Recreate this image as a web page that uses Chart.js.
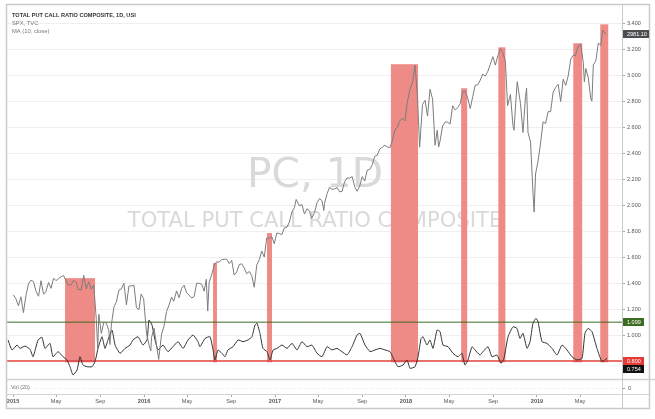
<!DOCTYPE html>
<html>
<head>
<meta charset="utf-8">
<script src="https://cdn.jsdelivr.net/npm/chart.js@4.4.1/dist/chart.umd.min.js"></script>
<style>
  html, body { margin: 0; padding: 0; background: #fff; }
  canvas { display: block; }
</style>
</head>
<body>
<canvas id="c" width="655" height="419"></canvas>
<script>
/* Total put/call ratio (MA 10) vs SPX.
   x axis runs in decimal years. */

// ---------- SPX (TVC), weekly-ish closes ----------
const spxDates = [
  "2015-01-02","2015-01-09","2015-01-16","2015-01-23","2015-01-30","2015-02-06","2015-02-13","2015-02-20","2015-02-27","2015-03-06",
  "2015-03-13","2015-03-20","2015-03-27","2015-04-02","2015-04-10","2015-04-17","2015-04-24","2015-05-01","2015-05-08","2015-05-15",
  "2015-05-22","2015-05-29","2015-06-05","2015-06-12","2015-06-19","2015-06-26","2015-07-02","2015-07-10","2015-07-17","2015-07-24",
  "2015-07-31","2015-08-07","2015-08-14","2015-08-21","2015-08-25","2015-08-28","2015-09-04","2015-09-11","2015-09-18","2015-09-25",
  "2015-09-28","2015-10-02","2015-10-09","2015-10-16","2015-10-23","2015-10-30","2015-11-06","2015-11-13","2015-11-20","2015-11-27",
  "2015-12-04","2015-12-11","2015-12-18","2015-12-24","2015-12-31",
  "2016-01-08","2016-01-15","2016-01-20","2016-01-22","2016-01-29","2016-02-05","2016-02-11","2016-02-19","2016-02-26","2016-03-04",
  "2016-03-11","2016-03-18","2016-03-24","2016-04-01","2016-04-08","2016-04-15","2016-04-22","2016-04-29","2016-05-06","2016-05-13",
  "2016-05-20","2016-05-27","2016-06-03","2016-06-10","2016-06-17","2016-06-23","2016-06-27","2016-07-01","2016-07-08","2016-07-15",
  "2016-07-22","2016-07-29","2016-08-05","2016-08-12","2016-08-19","2016-08-26","2016-09-02","2016-09-09","2016-09-16","2016-09-23",
  "2016-09-30","2016-10-07","2016-10-14","2016-10-21","2016-10-28","2016-11-04","2016-11-11","2016-11-18","2016-11-25","2016-12-02",
  "2016-12-09","2016-12-16","2016-12-23","2016-12-30",
  "2017-01-06","2017-01-13","2017-01-20","2017-01-27","2017-02-03","2017-02-10","2017-02-17","2017-02-24","2017-03-01","2017-03-10",
  "2017-03-17","2017-03-24","2017-03-31","2017-04-07","2017-04-13","2017-04-21","2017-04-28","2017-05-05","2017-05-12","2017-05-17",
  "2017-05-19","2017-05-26","2017-06-02","2017-06-09","2017-06-16","2017-06-23","2017-06-30","2017-07-07","2017-07-14","2017-07-21",
  "2017-07-28","2017-08-04","2017-08-11","2017-08-18","2017-08-25","2017-09-01","2017-09-08","2017-09-15","2017-09-22","2017-09-29",
  "2017-10-06","2017-10-13","2017-10-20","2017-10-27","2017-11-03","2017-11-10","2017-11-17","2017-11-24","2017-12-01","2017-12-08",
  "2017-12-15","2017-12-22","2017-12-29",
  "2018-01-05","2018-01-12","2018-01-19","2018-01-26","2018-02-02","2018-02-08","2018-02-16","2018-02-23","2018-03-02","2018-03-09",
  "2018-03-16","2018-03-23","2018-03-29","2018-04-02","2018-04-06","2018-04-13","2018-04-20","2018-04-27","2018-05-04","2018-05-11",
  "2018-05-18","2018-05-25","2018-06-01","2018-06-08","2018-06-15","2018-06-22","2018-06-29","2018-07-06","2018-07-13","2018-07-20",
  "2018-07-27","2018-08-03","2018-08-10","2018-08-17","2018-08-24","2018-08-31","2018-09-07","2018-09-14","2018-09-21","2018-09-28",
  "2018-10-05","2018-10-11","2018-10-19","2018-10-26","2018-10-29","2018-11-02","2018-11-07","2018-11-16","2018-11-23","2018-11-30",
  "2018-12-03","2018-12-07","2018-12-14","2018-12-21","2018-12-24","2018-12-28",
  "2019-01-04","2019-01-11","2019-01-18","2019-01-25","2019-02-01","2019-02-08","2019-02-15","2019-02-22","2019-03-01","2019-03-08",
  "2019-03-15","2019-03-22","2019-03-29","2019-04-05","2019-04-12","2019-04-18","2019-04-26","2019-05-03","2019-05-10","2019-05-13",
  "2019-05-17","2019-05-24","2019-05-31","2019-06-03","2019-06-07","2019-06-14","2019-06-21","2019-06-28","2019-07-03","2019-07-12"
];
const spxValues = [
  2058, 2044, 2019, 2051, 1995, 2055, 2097, 2110, 2105, 2071,
  2053, 2108, 2061, 2067, 2102, 2081, 2117, 2108, 2116, 2122,
  2126, 2107, 2092, 2094, 2110, 2101, 2077, 2076, 2127, 2079,
  2104, 2078, 2092, 1971, 1867, 1989, 1921, 1961, 1958, 1931,
  1882, 1951, 2014, 2033, 2075, 2079, 2099, 2023, 2089, 2090,
  2092, 2012, 2006, 2061, 2044,
  1922, 1880, 1859, 1907, 1940, 1880, 1829, 1918, 1948, 1999,
  2022, 2050, 2035, 2072, 2048, 2081, 2092, 2065, 2057, 2047,
  2052, 2099, 2099, 2096, 2071, 2113, 2001, 2103, 2129, 2162,
  2175, 2174, 2183, 2184, 2184, 2169, 2180, 2128, 2139, 2165,
  2168, 2153, 2133, 2141, 2126, 2085, 2164, 2182, 2213, 2192,
  2260, 2258, 2264, 2239,
  2277, 2275, 2271, 2295, 2297, 2316, 2351, 2367, 2396, 2373,
  2378, 2344, 2363, 2355, 2329, 2349, 2384, 2399, 2391, 2357,
  2382, 2416, 2439, 2432, 2433, 2438, 2423, 2425, 2459, 2472,
  2472, 2477, 2441, 2425, 2443, 2477, 2461, 2500, 2502, 2519,
  2549, 2553, 2575, 2581, 2588, 2582, 2579, 2603, 2642, 2652,
  2675, 2683, 2674,
  2743, 2786, 2810, 2872, 2762, 2581, 2732, 2747, 2691, 2786,
  2752, 2588, 2641, 2582, 2604, 2656, 2670, 2670, 2663, 2728,
  2713, 2721, 2735, 2779, 2780, 2755, 2718, 2760, 2801, 2802,
  2819, 2840, 2833, 2850, 2875, 2902, 2872, 2905, 2930, 2914,
  2885, 2728, 2768, 2658, 2641, 2723, 2813, 2736, 2633, 2760,
  2790, 2633, 2600, 2417, 2351, 2486,
  2532, 2596, 2671, 2665, 2707, 2707, 2776, 2793, 2804, 2743,
  2822, 2800, 2834, 2893, 2907, 2905, 2940, 2946, 2881, 2812,
  2860, 2826, 2752, 2744, 2873, 2887, 2950, 2942, 2996, 2981
];

// ---------- Total put/call ratio composite, MA(10) — decimal years ----------
const pcDates = [
  2014.962, 2014.992, 2015.031, 2015.053, 2015.092, 2015.130, 2015.153, 2015.191, 2015.221, 2015.244,
  2015.282, 2015.305, 2015.344, 2015.382, 2015.412, 2015.435, 2015.458, 2015.489, 2015.511, 2015.534,
  2015.565, 2015.603, 2015.626, 2015.649, 2015.679, 2015.702, 2015.725, 2015.756, 2015.779, 2015.817,
  2015.855, 2015.893, 2015.916, 2015.954, 2015.992, 2016.023, 2016.038, 2016.061, 2016.084, 2016.107,
  2016.145, 2016.183, 2016.221, 2016.260, 2016.298, 2016.336, 2016.374, 2016.412,
  2016.427, 2016.466, 2016.504, 2016.527, 2016.542, 2016.565, 2016.595, 2016.618, 2016.641, 2016.679,
  2016.718, 2016.756, 2016.794, 2016.824, 2016.847, 2016.863, 2016.885, 2016.908, 2016.939, 2016.962,
  2016.985, 2017.015, 2017.053, 2017.092, 2017.130, 2017.168, 2017.206, 2017.244, 2017.282, 2017.321,
  2017.359, 2017.397, 2017.435, 2017.473, 2017.511, 2017.550, 2017.588, 2017.626, 2017.649, 2017.687,
  2017.725, 2017.763, 2017.802, 2017.840, 2017.878, 2017.916, 2017.939, 2017.977, 2018.008, 2018.031,
  2018.069, 2018.092, 2018.115, 2018.130, 2018.160, 2018.183, 2018.206, 2018.237, 2018.260, 2018.282,
  2018.321, 2018.359, 2018.397, 2018.427, 2018.450, 2018.473, 2018.504, 2018.527, 2018.565, 2018.588,
  2018.626, 2018.656, 2018.695, 2018.725, 2018.748, 2018.779, 2018.817, 2018.847, 2018.870, 2018.893,
  2018.924, 2018.947, 2018.969, 2018.992, 2019.008, 2019.038, 2019.076, 2019.115, 2019.153, 2019.191,
  2019.229, 2019.267, 2019.305, 2019.344, 2019.366, 2019.389, 2019.420, 2019.458, 2019.496, 2019.534
];
const pcValues = [
  0.962, 0.885, 0.923, 0.897, 0.915, 0.890, 0.833, 0.962, 0.982, 0.897,
  0.936, 0.833, 0.872, 0.833, 0.808, 0.756, 0.692, 0.731, 0.833, 0.769,
  0.756, 0.756, 0.795, 0.897, 0.987, 0.897, 0.962, 1.038, 0.923, 0.859,
  0.897, 0.923, 0.962, 0.987, 0.923, 0.962, 1.115, 1.077, 0.962, 0.885,
  0.923, 0.872, 0.910, 0.949, 0.897, 0.962, 1.000, 0.949,
  0.910, 0.974, 0.987, 0.885, 0.808, 0.885, 0.859, 0.833, 0.885, 0.910,
  0.962, 0.949, 0.962, 0.987, 1.077, 1.090, 1.013, 0.897, 0.872, 0.808,
  0.885, 0.897, 0.923, 0.897, 0.936, 0.885, 0.949, 0.910, 0.923, 0.859,
  0.833, 0.910, 0.885, 0.897, 0.872, 0.846, 0.910, 1.000, 1.013, 0.923,
  0.872, 0.885, 0.897, 0.885, 0.872, 0.795, 0.756, 0.769, 0.808, 0.744,
  0.756, 0.833, 0.974, 0.987, 0.923, 0.962, 0.897, 1.038, 1.026, 0.923,
  0.910, 0.859, 0.833, 0.859, 0.769, 0.808, 0.910, 0.885, 0.846, 0.872,
  0.910, 0.833, 0.846, 0.782, 0.821, 0.987, 1.064, 1.051, 0.974, 1.013,
  0.897, 0.949, 1.090, 1.128, 1.103, 0.949, 0.936, 0.897, 0.846, 0.923,
  0.885, 0.833, 0.808, 0.821, 1.013, 1.051, 1.026, 0.897, 0.795, 0.821
];

// ---------- highlighted zones (left-axis units) ----------
const zoneStart = [2015.397, 2016.527, 2016.939, 2017.885, 2018.421, 2018.705, 2019.277, 2019.483];
const zoneEnd   = [2015.626, 2016.557, 2016.977, 2018.092, 2018.467, 2018.759, 2019.345, 2019.544];
const zoneTop   = [1.438, 1.554, 1.785, 3.085, 2.900, 3.215, 3.246, 3.392];
const zoneBottom = 0.79;

const levelValues = [1.099, 0.800];
const levelLabels = ["1.099", "0.800"];

// ---------- axes ----------
const tickValues = [2015, 2015.329, 2015.666, 2016, 2016.329, 2016.666, 2017, 2017.329, 2017.666,
                    2018, 2018.329, 2018.666, 2019, 2019.329];
const tickLabels = ["2015", "May", "Sep", "2016", "May", "Sep", "2017", "May", "Sep",
                    "2018", "May", "Sep", "2019", "May"];
const priceTicks = [1.0, 1.2, 1.4, 1.6, 1.8, 2.0, 2.2, 2.4, 2.6, 2.8, 3.0, 3.2, 3.4];

const spxLast = 2981.10;
const pcLast = 0.754;

const FONT = "'Liberation Sans', Arial, sans-serif";

const C = {
  spx: "#7c7c7c",
  pc: "#333",
  zone: "#ef8b87",
  green: "#3c6b22",
  frame: "#c9c9c9",
  grid: "#efefef",
  text: "#555",
  water: "#d9d9d9",
};

function decYear(s) {
  const [y, m, d] = s.split("-").map(Number);
  const t0 = Date.UTC(y, 0, 1), t1 = Date.UTC(y + 1, 0, 1);
  return y + (Date.UTC(y, m - 1, d) - t0) / (t1 - t0);
}

function fitFont(ctx, text, width, family) {
  ctx.font = `100px ${family}`;
  const s = 100 * width / ctx.measureText(text).width;
  return `${s.toFixed(1)}px ${family}`;
}

const deco = {
  id: "deco",
  beforeDatasetsDraw(chart) {
    const { ctx, chartArea: a, scales: { x, y } } = chart;
    ctx.save();
    // watermark
    ctx.fillStyle = C.water;
    ctx.textAlign = "center";
    ctx.textBaseline = "alphabetic";
    ctx.font = fitFont(ctx, "PC, 1D", 136, "'DejaVu Sans', sans-serif");
    ctx.fillText("PC, 1D", 315, 187);
    ctx.font = fitFont(ctx, "TOTAL PUT CALL RATIO COMPOSITE", 374, "'DejaVu Sans', sans-serif");
    ctx.fillText("TOTAL PUT CALL RATIO COMPOSITE", 315, 227);

    // zones
    ctx.fillStyle = C.zone;
    zoneStart.forEach((s, i) => {
      const x0 = x.getPixelForValue(s), x1 = x.getPixelForValue(zoneEnd[i]);
      const y0 = y.getPixelForValue(zoneTop[i]), y1 = y.getPixelForValue(zoneBottom);
      ctx.fillRect(x0, y0, x1 - x0, y1 - y0);
    });

    // level lines
    const yg = y.getPixelForValue(levelValues[0]);
    ctx.strokeStyle = C.green; ctx.lineWidth = 1;
    ctx.beginPath(); ctx.moveTo(a.left, yg); ctx.lineTo(a.right, yg); ctx.stroke();
    const yr = y.getPixelForValue(levelValues[1]);
    ctx.strokeStyle = "rgba(224,64,60,0.75)"; ctx.lineWidth = 2;
    ctx.beginPath(); ctx.moveTo(a.left, yr); ctx.lineTo(a.right, yr); ctx.stroke();
    ctx.restore();
  },
  afterDraw(chart) {
    const { ctx, chartArea: a, scales: { y, spx } } = chart;
    ctx.save();

    // vol pane
    ctx.fillStyle = "#fff";
    ctx.fillRect(a.left, 380, a.right - a.left, a.bottom - 380);
    ctx.strokeStyle = "#d4d4d4"; ctx.lineWidth = 1.5;
    ctx.beginPath(); ctx.moveTo(a.left, 379.5); ctx.lineTo(655, 379.5); ctx.stroke();
    ctx.lineWidth = 1;
    ctx.beginPath(); ctx.moveTo(a.left, 394.5); ctx.lineTo(649, 394.5); ctx.stroke();
    ctx.strokeStyle = "#e4e4e4"; ctx.setLineDash([1, 2]);
    ctx.beginPath(); ctx.moveTo(a.left, 388.5); ctx.lineTo(a.right, 388.5); ctx.stroke();
    ctx.setLineDash([]);
    ctx.font = `5.5px ${FONT}`; ctx.fillStyle = "#777";
    ctx.textAlign = "left"; ctx.textBaseline = "middle";
    ctx.fillText("Vol (20)", 11, 387);
    ctx.fillStyle = C.text;
    ctx.fillText("0", 628, 388);
    ctx.strokeStyle = "#999";
    ctx.beginPath(); ctx.moveTo(622, 388.5); ctx.lineTo(625, 388.5); ctx.stroke();

    // frame
    ctx.strokeStyle = C.frame; ctx.lineWidth = 1.5;
    ctx.strokeRect(6.5, 4.5, 643, 404);
    ctx.lineWidth = 1;
    ctx.beginPath(); ctx.moveTo(622.5, 4.5); ctx.lineTo(622.5, 408.5); ctx.stroke();

    // legend text
    ctx.textAlign = "left"; ctx.textBaseline = "middle";
    ctx.fillStyle = "#333";
    ctx.font = `bold 5.6px ${FONT}`;
    ctx.fillText("TOTAL PUT CALL RATIO COMPOSITE, 1D, USI", 12, 15);
    ctx.fillStyle = "#777";
    ctx.font = `5.8px ${FONT}`;
    ctx.fillText("SPX, TVC", 12, 23);
    ctx.fillText("MA (10, close)", 12, 31);

    // price badges
    const badge = (text, yc, bg, w) => {
      ctx.fillStyle = bg;
      ctx.fillRect(623, Math.round(yc) - 4, w, 8);
      ctx.fillStyle = "#fff";
      ctx.font = `5.5px ${FONT}`;
      ctx.fillText(text, 627, Math.round(yc));
    };
    badge(spxLast.toFixed(2), spx.getPixelForValue(spxLast), "#4b4d50", 26);
    badge(levelLabels[0], y.getPixelForValue(levelValues[0]), C.green, 21);
    badge(levelLabels[1], y.getPixelForValue(levelValues[1]), "#e53935", 21);
    badge(pcLast.toFixed(3), y.getPixelForValue(levelValues[1]) + 8, "#111", 21);
    ctx.restore();
  },
};

const spxData = spxDates.map((d, i) => ({ x: decYear(d), y: spxValues[i] }));
const pcData = pcDates.map((d, i) => ({ x: d, y: pcValues[i] }));

new Chart(document.getElementById("c"), {
  type: "line",
  data: {
    datasets: [
      { label: "SPX", data: spxData, yAxisID: "spx", borderColor: C.spx, borderWidth: 1,
        pointRadius: 0, tension: 0 },
      { label: "MA (10, close)", data: pcData, yAxisID: "y", borderColor: C.pc, borderWidth: 1,
        pointRadius: 0, tension: 0.15 },
    ],
  },
  options: {
    responsive: false,
    animation: false,
    layout: { padding: { left: 7, top: 5, right: 0, bottom: 0 } },
    plugins: { legend: { display: false }, tooltip: { enabled: false } },
    scales: {
      x: {
        type: "linear",
        min: 2014.954,
        max: 2019.649,
        afterBuildTicks: s => { s.ticks = tickValues.map(v => ({ value: v })); },
        afterFit: s => { s.height = 25; s.paddingLeft = 0; s.paddingRight = 0; },
        ticks: {
          autoSkip: false,
          maxRotation: 0,
          padding: 1,
          color: C.text,
          font: c => ({ family: FONT, size: 5.6, weight: /^\d/.test(tickLabels[c.index] || "") ? "bold" : "normal" }),
          callback: (v, i) => tickLabels[i],
        },
        grid: { drawOnChartArea: false, tickLength: 3, color: "#aaa" },
        border: { display: false },
      },
      y: {
        position: "right",
        min: 0.546,
        max: 3.5385,
        afterBuildTicks: s => { s.ticks = priceTicks.map(v => ({ value: v })); },
        afterFit: s => { s.width = 33; },
        ticks: {
          padding: 2,
          color: C.text,
          font: { family: FONT, size: 5.5 },
          callback: v => v.toFixed(3),
        },
        grid: { color: C.grid, tickLength: 3, tickColor: "#aaa" },
        border: { display: false },
      },
      spx: { display: false, min: 1706.7, max: 3083.8 },
    },
  },
  plugins: [deco],
});
</script>
</body>
</html>
